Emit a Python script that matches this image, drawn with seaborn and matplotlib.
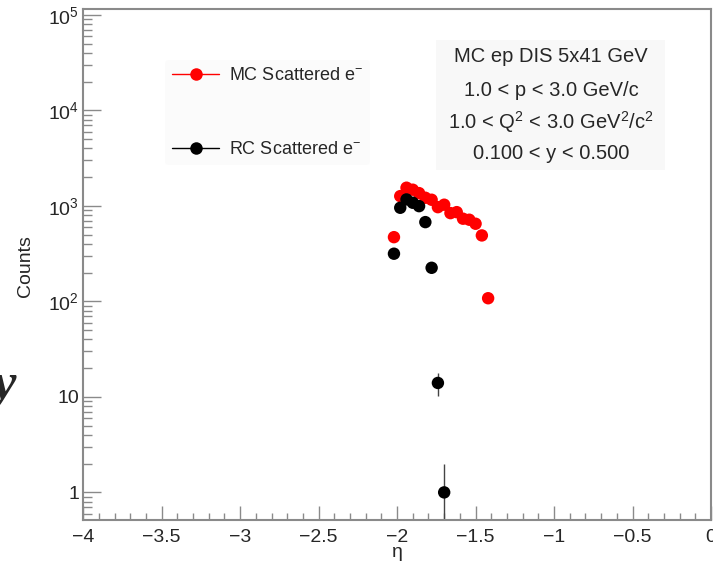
import numpy as np
import pandas as pd
import seaborn as sns
import matplotlib
matplotlib.use("Agg")
import matplotlib.pyplot as plt
from matplotlib.ticker import MultipleLocator, FixedLocator, FuncFormatter, LogLocator, NullFormatter
from matplotlib.lines import Line2D
from matplotlib.patches import Rectangle

# ---------------- data ----------------
mc_eta = [-2.02, -1.98, -1.94, -1.90, -1.86, -1.82, -1.78, -1.74, -1.70,
          -1.66, -1.62, -1.58, -1.54, -1.50, -1.46, -1.42]
mc_counts = [471, 1267, 1552, 1479, 1362, 1218, 1161, 971, 1030,
             841, 861, 735, 717, 651, 491, 108]
rc_eta = [-2.02, -1.98, -1.94, -1.90, -1.86, -1.82, -1.78, -1.74, -1.70]
rc_counts = [316, 957, 1170, 1080, 995, 677, 225, 14, 1]

mc_label = "MC Scattered e$^{-}$"
rc_label = "RC Scattered e$^{-}$"
info_lines = ["MC ep DIS 5x41 GeV",
              "1.0 < p < 3.0 GeV/c",
              "1.0 < Q$^{2}$ < 3.0 GeV$^{2}$/c$^{2}$",
              "0.100 < y < 0.500"]
x_ticks = [-4, -3.5, -3, -2.5, -2, -1.5, -1, -0.5, 0]
y_ticks = [1, 10, 100, 1000, 10000, 100000]
y_ticklabels = ["1", "10", "10$^{2}$", "10$^{3}$", "10$^{4}$", "10$^{5}$"]

# ---------------- style ----------------
sns.set_theme(style="white")
plt.rcParams["font.family"] = ["Liberation Sans", "DejaVu Sans"]
plt.rcParams["mathtext.fontset"] = "custom"
plt.rcParams["mathtext.rm"] = "Liberation Sans"
plt.rcParams["mathtext.it"] = "Liberation Sans:italic"
plt.rcParams["mathtext.bf"] = "Liberation Sans:bold"

W, H = 713, 566
fig = plt.figure(figsize=(W / 100, H / 100), dpi=100)
left, right, top, bottom = 83.2, 711, 9, 519.5
ax = fig.add_axes([left / W, 1 - bottom / H, (right - left) / W, (bottom - top) / H])

df = pd.DataFrame({
    "eta": mc_eta + rc_eta,
    "counts": mc_counts + rc_counts,
    "sample": ["MC"] * len(mc_eta) + ["RC"] * len(rc_eta),
})

ax.set_yscale("log", nonpositive="clip")

# error bars (Poisson)
mc_err = np.sqrt(np.array(mc_counts, dtype=float))
rc_err = np.sqrt(np.array(rc_counts, dtype=float))
ax.errorbar(mc_eta, mc_counts, yerr=mc_err, fmt="none", ecolor="red", elinewidth=1, zorder=2)
ax.errorbar(rc_eta, rc_counts, yerr=rc_err, fmt="none", ecolor="#444444", elinewidth=1, zorder=2)

sns.scatterplot(data=df, x="eta", y="counts", hue="sample",
                palette={"MC": "#ff0000", "RC": "#000000"},
                s=80, linewidth=0, legend=False, ax=ax, zorder=3)

ax.set_xlim(-4, 0)
ax.set_ylim(0.52, 1.155e5)

# ticks
ax.xaxis.set_major_locator(FixedLocator(x_ticks))
ax.xaxis.set_minor_locator(MultipleLocator(0.1))
ax.xaxis.set_major_formatter(FuncFormatter(lambda v, p: ("%g" % v).replace("-", "\u2212")))
ax.yaxis.set_major_locator(FixedLocator(y_ticks))
ax.yaxis.set_major_formatter(FuncFormatter(lambda v, p: y_ticklabels[y_ticks.index(int(round(v)))] if int(round(v)) in y_ticks else ""))
ax.yaxis.set_minor_locator(LogLocator(base=10, subs=np.arange(2, 10), numticks=20))
ax.yaxis.set_minor_formatter(NullFormatter())

tick_col = "#8a8a8a"
ax.tick_params(axis="x", which="major", direction="in", length=10, width=1, color=tick_col,
               labelsize=14, pad=6.5, bottom=True, top=False)
ax.tick_params(axis="x", which="minor", direction="in", length=5, width=1, color=tick_col,
               bottom=True, top=False)
ax.tick_params(axis="y", which="major", direction="in", length=13, width=1, color=tick_col,
               labelsize=14, pad=3, left=True, right=False)
ax.tick_params(axis="y", which="minor", direction="in", length=6.5, width=1, color=tick_col,
               left=True, right=False)

for s in ax.spines.values():
    s.set_color(tick_col)
    s.set_linewidth(1.5)

ax.set_xlabel("\u03b7", fontsize=14)
ax.xaxis.label.set_va("baseline")
ax.set_ylabel("Counts", fontsize=14)
ax.xaxis.set_label_coords((397 - left) / (right - left), -(557 - bottom) / (bottom - top))
ax.yaxis.set_label_coords(-(left - 34) / (right - left), 1 - (266 - top) / (bottom - top))

# legend
handles = [Line2D([0], [0], color="red", lw=1, marker="o", markersize=9, markeredgewidth=0),
           Line2D([0], [0], color="black", lw=1, marker="o", markersize=9, markeredgewidth=0)]
leg = fig.legend(handles, [mc_label, rc_label], loc="upper left",
                 bbox_to_anchor=(165 / W, 1 - 60 / H), frameon=True, fontsize=13,
                 handlelength=2.6, handletextpad=0.55, labelspacing=3.15,
                 borderpad=0.4, borderaxespad=0)
leg.get_frame().set_facecolor("#fbfbfb")
leg.get_frame().set_edgecolor("none")

# info box
fig.patches.append(Rectangle((436 / W, 1 - 170 / H), (665 - 436) / W, (170 - 40) / H,
                             transform=fig.transFigure, facecolor="#f8f8f8", edgecolor="none",
                             zorder=0))
for txt, yc in zip(info_lines, [57, 90, 122, 154]):
    fig.text(551 / W, 1 - yc / H, txt, ha="center", va="center", fontsize=14.5)

# stray glyph at left edge of the original image
fig.text(-8 / W, 1 - 386 / H, "y", ha="left", va="center", fontsize=38,
         fontweight="bold", style="italic", family="Liberation Serif")

fig.savefig("out.png", dpi=100)
